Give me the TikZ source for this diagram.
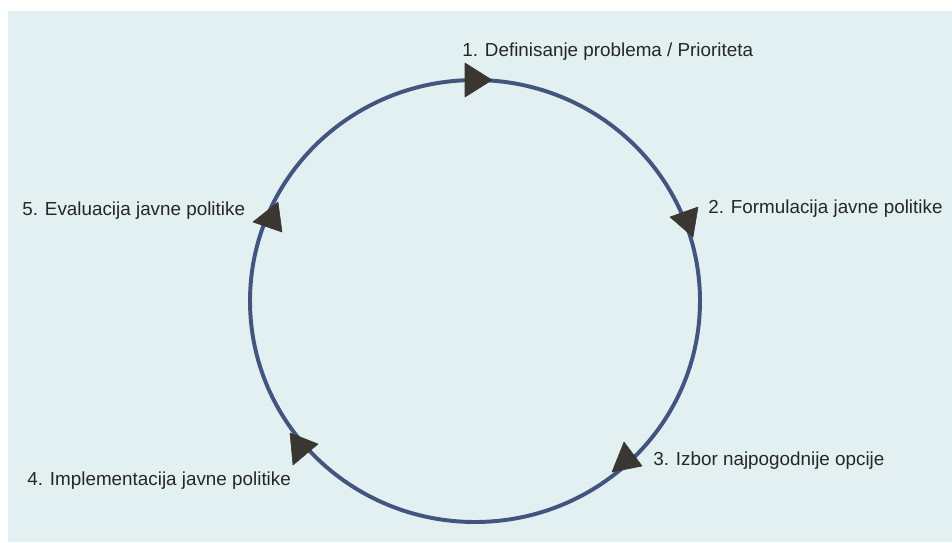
\documentclass[tikz,border=0pt]{standalone}
\usepackage{fontspec}
\setmainfont{Liberation Sans}
\definecolor{bgblue}{RGB}{226,240,241}
\definecolor{ringblue}{RGB}{66,84,128}
\definecolor{headgray}{RGB}{58,54,50}
\definecolor{textgray}{RGB}{38,38,38}
\begin{document}
\begin{tikzpicture}[x=0.025cm, y=-0.025cm,
  stage/.style = {anchor=base west, inner sep=0pt, text=textgray,
                  font=\fontsize{13.4}{16}\selectfont},
  arrowhead/.style = {fill=headgray, draw=headgray, line join=round, line width=0.4pt}]

\useasboundingbox (0,0) rectangle (952,542);
\fill [bgblue] (8,11) rectangle (952,542);

% the cycle
\draw [ringblue, line width=2.8pt] (475,301) ellipse [x radius=225, y radius=221];

% arrow heads on the ring
\foreach \a/\b/\c in {{(492,80)}/{(465,63)}/{(465,97)},
                      {(670,217)}/{(698,207)}/{(693,237)},
                      {(624,442)}/{(642,466)}/{(612,472)},
                      {(290,433)}/{(318,444)}/{(293,465)},
                      {(278,202)}/{(253,222)}/{(282,232)}}
  {\filldraw [arrowhead] \a -- \b -- \c -- cycle;}

% stages
\node [stage] (s1) at (462,56)  {1. Definisanje problema / Prioriteta};
\node [stage] (s2) at (708,213) {2. Formulacija javne politike};
\node [stage] (s3) at (653,465) {3. Izbor najpogodnije opcije};
\node [stage] (s4) at (27,485)  {4. Implementacija javne politike};
\node [stage] (s5) at (22,215)  {5. Evaluacija javne politike};

\end{tikzpicture}
\end{document}
